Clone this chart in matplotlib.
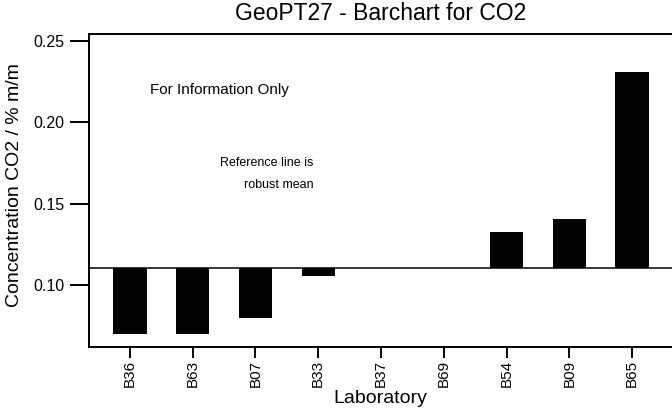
import matplotlib
matplotlib.use("Agg")
import matplotlib.pyplot as plt
import numpy as np

# data
labs = ['B36', 'B63', 'B07', 'B33', 'B37', 'B69', 'B54', 'B09', 'B65']
conc = [0.070, 0.070, 0.080, 0.1057, 0.1105, 0.1105, 0.1325, 0.1403, 0.2305]
ref_value = 0.1105  # robust mean
yticks = [0.10, 0.15, 0.20, 0.25]

plt.rcParams['font.family'] = ['Liberation Sans', 'DejaVu Sans']

fig = plt.figure(figsize=(6.72, 4.12), dpi=100)
ax = fig.add_axes([0.1317, 0.1585, 0.8683, 0.7582])

x = np.arange(len(labs))
vals = np.array(conc)
ax.bar(x, vals - ref_value, bottom=ref_value, width=0.53, color='black',
       edgecolor='none')
ax.axhline(ref_value, color='black', lw=1.1)

ax.set_xlim(-0.661, 8.637)
ax.set_ylim(0.0621, 0.2539)
ax.set_yticks(yticks)
ax.set_yticklabels([f'{v:.2f}' for v in yticks], fontsize=11.5)
ax.set_xticks(x)
ax.set_xticklabels(labs, rotation=90, fontsize=11)

ax.spines['right'].set_visible(False)
for s in ['left', 'top', 'bottom']:
    ax.spines[s].set_linewidth(1.4)
ax.tick_params(axis='y', length=13.5, width=1.4, pad=4)
ax.tick_params(axis='x', length=8, width=1.4, pad=1.5)

ax.set_ylabel('Concentration CO2 / % m/m', fontsize=14, va='center')
ax.yaxis.set_label_coords(-0.126, 0.518)
ax.set_xlabel('Laboratory', fontsize=14, va='center')
ax.xaxis.set_label_coords(0.5, -0.165)
ax.text(0.5, 1.068, 'GeoPT27 - Barchart for CO2', transform=ax.transAxes,
        ha='center', va='center', fontsize=16.5)

ax.text(1.43, 0.2197, 'For Information Only', ha='center', va='center',
        fontsize=11)
ax.text(2.93, 0.1748, 'Reference line is', ha='right', va='center',
        fontsize=9)
ax.text(2.93, 0.1611, 'robust mean', ha='right', va='center',
        fontsize=9)

fig.savefig('out.png', dpi=100)
